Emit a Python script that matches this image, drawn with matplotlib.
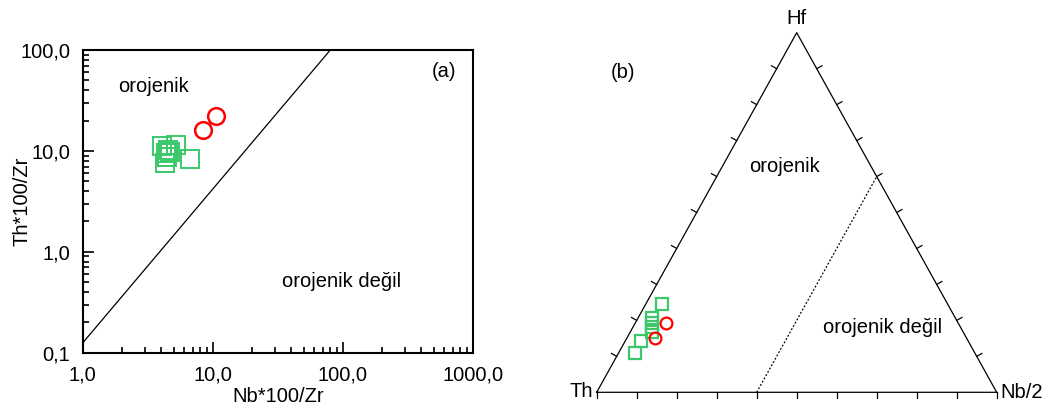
import numpy as np
import matplotlib
matplotlib.use("Agg")
import matplotlib.pyplot as plt
from matplotlib.ticker import FixedLocator, LogLocator, NullFormatter

plt.rcParams['font.family'] = ['Liberation Sans', 'DejaVu Sans']

# --- (a) Th*100/Zr vs Nb*100/Zr -------------------------------------------
nb_green = [4.05, 5.22, 6.65, 4.30, 4.53, 4.37, 4.69, 4.45]
th_green = [11.2, 11.4, 8.27, 7.6, 10.2, 9.5, 9.7, 8.7]
nb_red = [8.4, 10.6]
th_red = [16.0, 22.0]

# orogenic / non-orogenic boundary
bound_nb = [1.0, 80.0]
bound_th = [0.125, 100.0]

x_ticks = [1, 10, 100, 1000]
x_labels = ['1,0', '10,0', '100,0', '1000,0']
y_ticks = [0.1, 1, 10, 100]
y_labels = ['0,1', '1,0', '10,0', '100,0']

# --- (b) Th - Hf - Nb/2 ternary ---------------------------------------------
tern_green_th = [0.714, 0.759, 0.766, 0.772, 0.778, 0.818, 0.851]
tern_green_nb = [0.040, 0.035, 0.042, 0.047, 0.053, 0.038, 0.040]
tern_green_hf = [0.246, 0.206, 0.192, 0.181, 0.169, 0.144, 0.109]
tern_red_th = [0.731, 0.778]
tern_red_nb = [0.077, 0.070]
tern_red_hf = [0.192, 0.152]
nb_boundary = 0.4

green = '#3cc86a'
red = '#ff0000'
fs = 14.5

W, H = 1051, 407
fig = plt.figure(figsize=(W / 100, H / 100), dpi=100)

ax = fig.add_axes([82.7 / W, 1 - 352.7 / H, 390.3 / W, 302.7 / H])
ax.set_xscale('log')
ax.set_yscale('log')
ax.set_xlim(1, 1000)
ax.set_ylim(0.1, 100)

ax.plot(bound_nb, bound_th, color='black', lw=0.9)
ax.plot(nb_green, th_green, ls='none', marker='s', ms=12.5, mfc='none',
        mec=green, mew=1.4)
ax.plot(nb_red, th_red, ls='none', marker='o', ms=12, mfc='none',
        mec=red, mew=1.8)

ax.xaxis.set_major_locator(FixedLocator(x_ticks))
ax.set_xticklabels(x_labels)
ax.yaxis.set_major_locator(FixedLocator(y_ticks))
ax.set_yticklabels(y_labels)
ax.xaxis.set_minor_locator(LogLocator(base=10, subs=np.arange(2, 10)))
ax.yaxis.set_minor_locator(LogLocator(base=10, subs=np.arange(2, 10)))
ax.xaxis.set_minor_formatter(NullFormatter())
ax.yaxis.set_minor_formatter(NullFormatter())
ax.tick_params(which='both', direction='in', top=False, right=False,
               labelsize=fs, width=1.2)
ax.tick_params(axis='y', which='major', length=8, pad=9)
ax.tick_params(axis='x', which='major', length=8, pad=9)
ax.tick_params(which='minor', length=4.5)
for sp in ax.spines.values():
    sp.set_linewidth(1.5)

ax.set_xlabel('Nb*100/Zr', fontsize=fs)
ax.xaxis.set_label_coords(0.5, -0.112)
ax.set_ylabel('Th*100/Zr', fontsize=fs)
ax.yaxis.set_label_coords(-0.13, 0.5)
ax.text(0.09, 0.88, 'orojenik', transform=ax.transAxes, fontsize=fs,
        va='center')
ax.text(0.51, 0.235, 'orojenik değil', transform=ax.transAxes, fontsize=fs,
        va='center')
ax.text(0.925, 0.93, '(a)', transform=ax.transAxes, fontsize=fs,
        ha='center', va='center')

# --- ternary panel ---------------------------------------------------------
tx0, ty0, tw, th_ = 596.7, 392.3, 400.0, 359.6
bx = fig.add_axes([tx0 / W, 1 - ty0 / H, tw / W, th_ / H])
bx.set_xlim(0, 1)
bx.set_ylim(0, 1)
bx.axis('off')


def tern(th, nb, hf):
    th, nb, hf = (np.asarray(v, dtype=float) for v in (th, nb, hf))
    s = th + nb + hf
    return (nb + hf / 2) / s, hf / s


# pixel -> data scale for drawing outward ticks
sx, sy = 1 / tw, 1 / th_

verts = [(1, 0, 0), (0, 1, 0), (0, 0, 1), (1, 0, 0)]
vx, vy = tern(*zip(*verts))
bx.plot(vx, vy, color='black', lw=0.9, clip_on=False)

tick_len = 6
fr = np.linspace(0, 1, 11)
# bottom edge: ticks pointing down
for f in fr:
    x, y = tern(1 - f, f, 0)
    bx.plot([x, x], [y, y - tick_len * sy], color='black', lw=0.9,
            clip_on=False)
# side edges: ticks perpendicular to the edge, outward
edge_px = np.array([200.0, 359.6])
nrm = np.array([edge_px[1], edge_px[0]]) / np.hypot(*edge_px)
for f in fr[1:-1]:
    x, y = tern(1 - f, 0, f)
    bx.plot([x, x - nrm[0] * tick_len * sx], [y, y + nrm[1] * tick_len * sy],
            color='black', lw=0.9, clip_on=False)
    x, y = tern(0, 1 - f, f)
    bx.plot([x, x + nrm[0] * tick_len * sx], [y, y + nrm[1] * tick_len * sy],
            color='black', lw=0.9, clip_on=False)

# Nb/2 = 0.4 boundary
lx, ly = tern([1 - nb_boundary, 0], [nb_boundary, nb_boundary],
              [0, 1 - nb_boundary])
bx.plot(lx, ly, color='black', lw=0.9, ls=(0, (1.5, 1.5)), clip_on=False)

gx, gy = tern(tern_green_th, tern_green_nb, tern_green_hf)
bx.plot(gx, gy, ls='none', marker='s', ms=8, mfc='none', mec=green,
        mew=1.6, clip_on=False)
rx, ry = tern(tern_red_th, tern_red_nb, tern_red_hf)
bx.plot(rx, ry, ls='none', marker='o', ms=8.5, mfc='none', mec=red,
        mew=1.6, clip_on=False)

bx.text(0.5, 1 + 14 / th_, 'Hf', fontsize=fs, ha='center', va='center')
bx.text(-4 * sx, 1 * sy, 'Th', fontsize=fs, ha='right', va='center')
bx.text(1 + 4 * sx, 0 * sy, 'Nb/2', fontsize=fs, ha='left', va='center')
bx.text(0.47, 0.627, 'orojenik', fontsize=fs, ha='center', va='center')
bx.text(0.715, 0.18, 'orojenik değil', fontsize=fs, ha='center',
        va='center')
bx.text(0.065, 0.89, '(b)', fontsize=fs, ha='center', va='center')

fig.savefig('out.png', dpi=100)
